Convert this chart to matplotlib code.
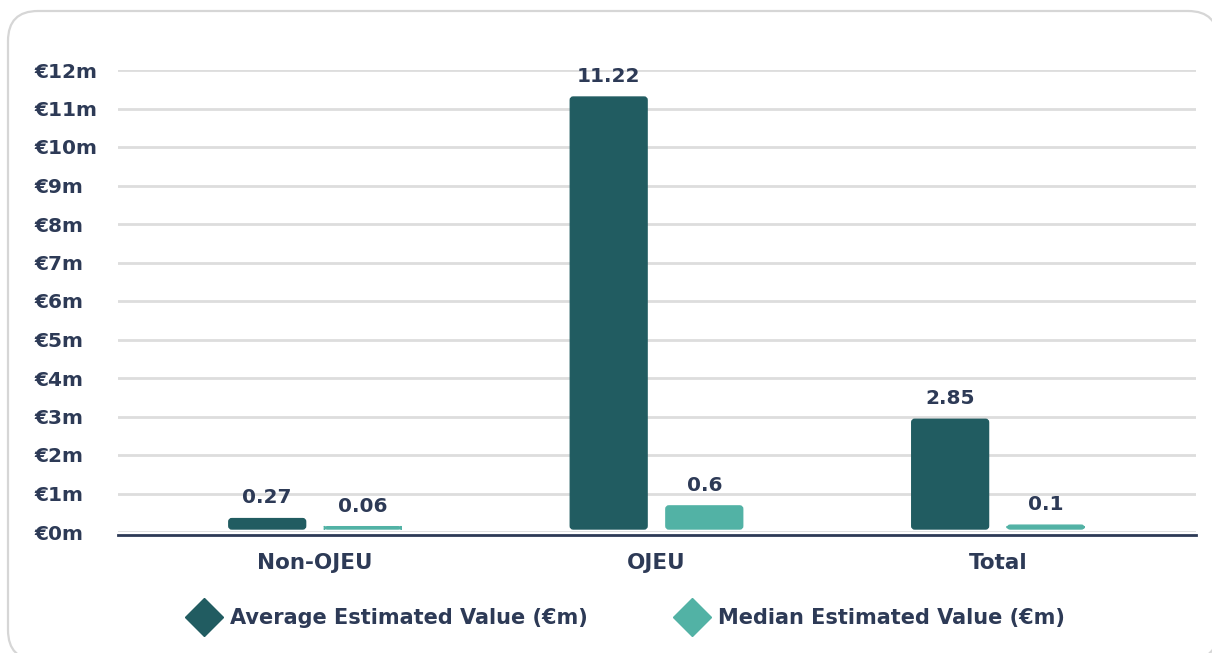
import matplotlib.pyplot as plt
from matplotlib.patches import FancyBboxPatch
from matplotlib.lines import Line2D

categories = ["Non-OJEU", "OJEU", "Total"]
average_values = [0.27, 11.22, 2.85]
median_values = [0.06, 0.6, 0.1]
average_labels = ["0.27", "11.22", "2.85"]
median_labels = ["0.06", "0.6", "0.1"]
y_ticks = list(range(0, 13))
y_tick_labels = [f"€{v}m" for v in y_ticks]

DARK = "#215c61"
LIGHT = "#52b2a5"
NAVY = "#2d3a56"
GRID = "#dddddd"

W, H = 1212, 653

plt.rcParams["font.family"] = ["DejaVu Sans"]
plt.rcParams["font.weight"] = "bold"

fig = plt.figure(figsize=(W / 100, H / 100), dpi=100)

# rounded card border; filled white so Agg does not clip the curved path
frame = FancyBboxPatch(
    (8 / W, (H - 660) / H), (1218 - 8) / W, (660 - 11) / H,
    boxstyle=f"round,pad=0,rounding_size={30 / W}",
    mutation_aspect=W / H,
    transform=fig.transFigure,
    facecolor="white", edgecolor="#d6d6d6", linewidth=1.6, zorder=-1,
)
fig.patches.append(frame)

ax_left, ax_right, ax_top, ax_bottom = 118, 1196, 70, 532
ax = fig.add_axes([ax_left / W, 1 - ax_bottom / H,
                   (ax_right - ax_left) / W, (ax_bottom - ax_top) / H])
ax.set_facecolor("none")

for side in ("top", "right", "left"):
    ax.spines[side].set_visible(False)
ax.spines["bottom"].set_position(("outward", 2))
ax.spines["bottom"].set_color(NAVY)
ax.spines["bottom"].set_linewidth(2)
ax.spines["bottom"].set_zorder(5)

xlim = (-0.577, 2.58)
ylim = (0, 12)
ax.set_ylim(*ylim)
ax.set_xlim(*xlim)

px_x = (ax_right - ax_left) / (xlim[1] - xlim[0])
px_y = (ax_bottom - ax_top) / (ylim[1] - ylim[0])

x = list(range(len(categories)))
width = 0.225
offset = 0.14
gap = 3 / px_y  # small white gap above the axis line


def rounded_bar(xc, value, color):
    patch = FancyBboxPatch(
        (xc - width / 2, gap), width, value,
        boxstyle=f"round,pad=0,rounding_size={3 / px_x}",
        mutation_aspect=px_x / px_y,
        facecolor=color, edgecolor=color, linewidth=1.0, zorder=3,
    )
    ax.add_patch(patch)
    return patch


for values, labels, color, sign in (
    (average_values, average_labels, DARK, -1),
    (median_values, median_labels, LIGHT, 1),
):
    for i, (val, lab) in enumerate(zip(values, labels)):
        xc = x[i] + sign * offset
        rounded_bar(xc, val, color)
        ax.annotate(lab, (xc, val + gap), xytext=(0, 8), textcoords="offset points",
                    ha="center", va="bottom", fontsize=14.5,
                    fontweight="bold", color=NAVY, zorder=4)

ax.set_yticks(y_ticks)
ax.set_yticklabels(y_tick_labels, fontsize=14.5, fontweight="bold", color=NAVY,
                   ha="left")
ax.tick_params(axis="y", length=0, pad=60)
ax.set_xticks(x)
ax.set_xticklabels(categories, fontsize=15.5, fontweight="bold", color=NAVY)
ax.tick_params(axis="x", length=0, pad=13)

ax.grid(axis="y", color=GRID, linewidth=2, zorder=0)
ax.set_axisbelow(True)

handles = [
    Line2D([], [], marker="D", linestyle="none", markersize=19,
           markerfacecolor=DARK, markeredgecolor=DARK),
    Line2D([], [], marker="D", linestyle="none", markersize=19,
           markerfacecolor=LIGHT, markeredgecolor=LIGHT),
]
fig.legend(handles, ["Average Estimated Value (€m)", "Median Estimated Value (€m)"],
           loc="center", bbox_to_anchor=(624 / W, 1 - 618 / H), ncol=2,
           frameon=False, handletextpad=0.25, columnspacing=4.0,
           labelcolor=NAVY, prop={"weight": "bold", "size": 15})

fig.savefig("out.png", dpi=100)
